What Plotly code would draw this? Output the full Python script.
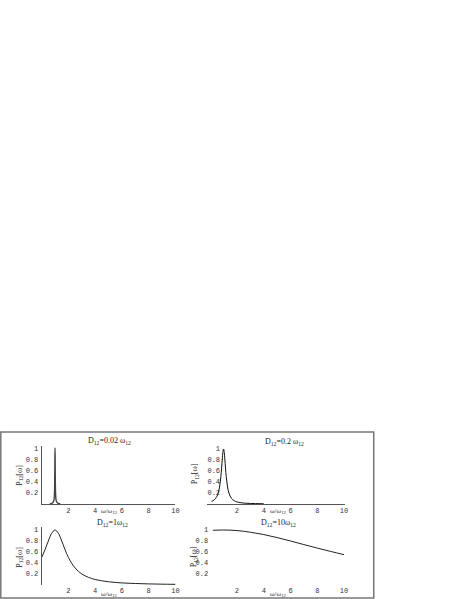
import plotly.graph_objects as go

# values (omega / omega_12 vs P_12)
omega_a = [0.6, 0.75, 0.85, 0.92, 0.96, 0.98, 0.99, 1.0, 1.01, 1.02, 1.04, 1.08, 1.15, 1.25, 1.4]
p_a = [0.0, 0.01, 0.03, 0.07, 0.2, 0.5, 0.8, 1.02, 0.8, 0.5, 0.2, 0.07, 0.03, 0.01, 0.0]

omega_b = [0.1, 0.3, 0.5, 0.6, 0.7, 0.8, 0.9, 0.95, 1.0, 1.05, 1.1, 1.2, 1.3, 1.4, 1.6, 1.8, 2.0, 2.5, 3.0, 4.0]
p_b = [0.047, 0.075, 0.138, 0.2, 0.31, 0.5, 0.8, 0.94, 1.0, 0.94, 0.8, 0.5, 0.31, 0.2, 0.1,
       0.059, 0.038, 0.017, 0.01, 0.004]

omega_c = [0, 0.25, 0.5, 0.75, 1, 1.25, 1.5, 2, 2.5, 3, 3.5, 4, 5, 6, 7, 8, 9, 10]
p_c = [0.5, 0.64, 0.8, 0.94, 1.0, 0.94, 0.8, 0.5, 0.31, 0.2, 0.14, 0.1, 0.059, 0.038, 0.027, 0.02, 0.015, 0.012]

omega_d = [0.2, 1, 2, 3, 4, 5, 6, 7, 8, 9, 10]
p_d = [0.994, 1.0, 0.99, 0.96, 0.917, 0.862, 0.8, 0.735, 0.671, 0.61, 0.552]

titles = ["D<sub>12</sub>=0.02 ω<sub>12</sub>", "D<sub>12</sub>=0.2 ω<sub>12</sub>",
          "D<sub>12</sub>=1ω<sub>12</sub>", "D<sub>12</sub>=10ω<sub>12</sub>"]
x_ticks = [2, 4, 6, 8, 10]
y_ticks = [0.2, 0.4, 0.6, 0.8, 1]
y_ticktext = ["0.2", "0.4", "0.6", "0.8", "1"]

W, H = 463, 599


def px(x):
    return x / W


def py(y):
    return 1 - y / H


mono = dict(family="Liberation Mono", size=7, color="#333")
serif = dict(family="Liberation Serif", size=8, color="#222")

fig = go.Figure()
series = [(omega_a, p_a, 1.4, "#444"), (omega_b, p_b, 1, "#111"),
          (omega_c, p_c, 1, "#222"), (omega_d, p_d, 1, "#222")]
for i, (xs, ys, lw, col) in enumerate(series):
    n = "" if i == 0 else str(i + 1)
    fig.add_trace(go.Scatter(x=xs, y=ys, mode="lines", line=dict(color=col, width=lw, shape="spline"),
                             xaxis="x" + n, yaxis="y" + n, showlegend=False, hoverinfo="skip"))

# (x domain px, x range, y bottom px, show x line, y position px, show y line)
panels = [
    ((42, 177), [0, 10], 504, True, None, True),
    ((209.3, 348.4), [-0.2, 10.1], 504, True, 223, False),
    ((42, 177), [0, 10], 585, False, None, True),
    ((209.3, 348.4), [-0.2, 10.1], 585, False, 211, False),
]
layout = {}
for i, (xd, xr, yb, xl, ypos, yl) in enumerate(panels):
    n = "" if i == 0 else str(i + 1)
    ytop = yb - 55 * 1.06
    layout["xaxis" + n] = dict(domain=[px(xd[0]), px(xd[1])], range=xr, anchor="y" + n,
                               showline=xl, linecolor="#555", linewidth=1, showgrid=False, zeroline=False,
                               tickvals=x_ticks, ticktext=[str(t) for t in x_ticks], tickfont=mono,
                               ticks="", ticklabelstandoff=0)
    ya = dict(domain=[py(yb), py(ytop)], range=[0, 1.06], showline=yl, linecolor="#555", linewidth=1,
              showgrid=False, zeroline=False, tickvals=y_ticks, ticktext=y_ticktext, tickfont=mono,
              ticks="", ticklabelstandoff=1)
    if ypos is None:
        ya["anchor"] = "x" + n
    else:
        ya["anchor"] = "free"
        ya["position"] = px(ypos)
    layout["yaxis" + n] = ya

annotations = []
title_pos = [(110, 441), (287, 442), (113, 523), (281, 523)]
for t, (x, y) in zip(titles, title_pos):
    annotations.append(dict(text=t, x=px(x), y=py(y), xref="paper", yref="paper",
                            showarrow=False, font=serif, xanchor="center", yanchor="middle"))
for x, y in [(110, 511), (281, 511), (110, 594), (281, 594)]:
    annotations.append(dict(text="ω/ω<sub>12</sub>", x=px(x), y=py(y), xref="paper", yref="paper",
                            showarrow=False, font=dict(family="Liberation Serif", size=7, color="#333"),
                            xanchor="center", yanchor="middle"))
for x, y in [(20, 475), (197, 474), (20, 557), (196, 557)]:
    annotations.append(dict(text="P<sub>12</sub>[ω]", x=px(x), y=py(y), xref="paper", yref="paper",
                            showarrow=False, textangle=-90, font=serif, xanchor="center", yanchor="middle"))

fig.update_layout(
    width=W, height=H, margin=dict(l=0, r=0, t=0, b=0),
    paper_bgcolor="white", plot_bgcolor="white",
    annotations=annotations,
    shapes=[dict(type="rect", xref="paper", yref="paper", x0=px(0.8), x1=px(377), y0=py(598), y1=py(432),
                 line=dict(color="#777", width=1.5))],
    **layout
)

# drop the page's default body margin so the figure sits at the window corner
fig.write_html("out.html", config={"displayModeBar": False},
               post_script="document.body.style.margin='0';")
